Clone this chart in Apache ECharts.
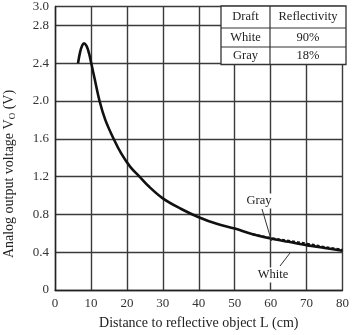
<!DOCTYPE html>
<html>
<head>
<meta charset="utf-8">
<script src="https://cdn.jsdelivr.net/npm/echarts@6/dist/echarts.min.js"></script>
<style>
  html, body { margin: 0; padding: 0; background: #fff; }
  #main { width: 352px; height: 335px; }
</style>
</head>
<body>
<div id="main"></div>
<script>
// distance L (cm) and output voltage (V)
var whiteDist = [6.4, 7.0, 7.6, 8.1, 8.8, 9.5, 10.2, 11.0, 12.4, 14.0, 16.3, 18.5, 21.0, 23.5, 26.0, 30.0, 35.0, 40.0, 45.0, 50.0, 55.0, 60.0, 65.0, 70.0, 75.0, 80.0];
var whiteVolt = [2.40, 2.52, 2.59, 2.61, 2.58, 2.50, 2.38, 2.24, 2.00, 1.80, 1.60, 1.44, 1.30, 1.20, 1.10, 0.97, 0.86, 0.77, 0.70, 0.65, 0.59, 0.545, 0.51, 0.475, 0.445, 0.415];
var grayDist = [55.0, 60.0, 65.0, 70.0, 75.0, 80.0];
var grayVolt = [0.59, 0.55, 0.52, 0.49, 0.455, 0.425];

var tableRows = [['Draft', 'Reflectivity'], ['White', '90%'], ['Gray', '18%']];

var serif = '"Liberation Serif", "DejaVu Serif", serif';

function pairs(xs, ys) {
  var out = [];
  for (var i = 0; i < xs.length; i++) out.push([xs[i], ys[i]]);
  return out;
}

var myChart = echarts.init(document.getElementById('main'));

// table in upper right corner
var tblLeft = 221, tblRight = 346, tblMid = 270;
var rowY = [6, 28, 47, 64.5];
var tableGraphic = [
  { type: 'rect', shape: { x: tblLeft, y: rowY[0], width: tblRight - tblLeft, height: rowY[3] - rowY[0] },
    style: { fill: '#fff', stroke: '#333', lineWidth: 1.3 }, z: 10 },
  { type: 'line', shape: { x1: tblMid, y1: rowY[0], x2: tblMid, y2: rowY[3] }, style: { stroke: '#333', lineWidth: 1.2 }, z: 11 },
  { type: 'line', shape: { x1: tblLeft, y1: rowY[1], x2: tblRight, y2: rowY[1] }, style: { stroke: '#333', lineWidth: 1.2 }, z: 11 },
  { type: 'line', shape: { x1: tblLeft, y1: rowY[2], x2: tblRight, y2: rowY[2] }, style: { stroke: '#333', lineWidth: 1.2 }, z: 11 }
];
tableRows.forEach(function (row, i) {
  var cy = (rowY[i] + rowY[i + 1]) / 2;
  tableGraphic.push({ type: 'text', x: (tblLeft + tblMid) / 2, y: cy, z: 12,
    style: { text: row[0], font: '12.5px ' + serif, fill: '#222', align: 'center', verticalAlign: 'middle' } });
  tableGraphic.push({ type: 'text', x: (tblMid + tblRight) / 2, y: cy, z: 12,
    style: { text: row[1], font: '12.5px ' + serif, fill: '#222', align: 'center', verticalAlign: 'middle' } });
});

var option = {
  backgroundColor: '#fff',
  animation: false,
  grid: { left: 55, right: 6.5, top: 6, bottom: 39 },
  xAxis: {
    type: 'value', min: 0, max: 80, interval: 10,
    axisLine: { show: true, lineStyle: { color: '#222', width: 1.4 } },
    axisTick: { show: false },
    axisLabel: { color: '#333', fontFamily: serif, fontSize: 13, margin: 7 },
    splitLine: { show: true, lineStyle: { color: '#3a3a3a', width: 1.4 } },
    name: 'Distance to reflective object L (cm)',
    nameLocation: 'middle', nameGap: 26,
    nameTextStyle: { color: '#222', fontFamily: serif, fontSize: 14 }
  },
  yAxis: {
    type: 'value', min: 0, max: 3, interval: 0.4,
    axisLine: { show: true, lineStyle: { color: '#222', width: 1.4 } },
    axisTick: { show: false },
    axisLabel: {
      color: '#333', fontFamily: serif, fontSize: 13, margin: 6,
      formatter: function (v) { return v === 0 ? '0' : v.toFixed(1); }
    },
    splitLine: { show: true, lineStyle: { color: '#3a3a3a', width: 1.4 } }
  },
  graphic: tableGraphic.concat([
    { type: 'text', x: 9, y: 174, rotation: Math.PI / 2,
      style: { text: 'Analog output voltage V{s|O} (V)', font: '14px ' + serif, fill: '#222',
               align: 'center', verticalAlign: 'middle',
               rich: { s: { fontSize: 9, fontFamily: serif, fill: '#222', padding: [7, 0, 0, 0] } } } },
    // leader lines
    { type: 'line', shape: { x1: 262, y1: 209, x2: 271.5, y2: 241 }, style: { stroke: '#333', lineWidth: 1 }, z: 5 },
    { type: 'line', shape: { x1: 280, y1: 266, x2: 290, y2: 253 }, style: { stroke: '#333', lineWidth: 1 }, z: 5 },
    { type: 'text', x: 259, y: 201, z: 6,
      style: { text: 'Gray', font: '12.5px ' + serif, fill: '#222', align: 'center', verticalAlign: 'middle',
               backgroundColor: '#fff', padding: [1, 3, 1, 3] } },
    { type: 'text', x: 273, y: 275, z: 6,
      style: { text: 'White', font: '12.5px ' + serif, fill: '#222', align: 'center', verticalAlign: 'middle',
               backgroundColor: '#fff', padding: [1, 3, 1, 3] } }
  ]),
  series: [
    {
      name: 'White', type: 'line', data: pairs(whiteDist, whiteVolt),
      smooth: 0.35, showSymbol: false, z: 3,
      lineStyle: { color: '#111', width: 2.6 }
    },
    {
      name: 'Gray', type: 'line', data: pairs(grayDist, grayVolt),
      smooth: 0.35, showSymbol: false, z: 4,
      lineStyle: { color: '#111', width: 2.2, type: [3, 2] }
    }
  ]
};
myChart.setOption(option);
</script>
</body>
</html>
